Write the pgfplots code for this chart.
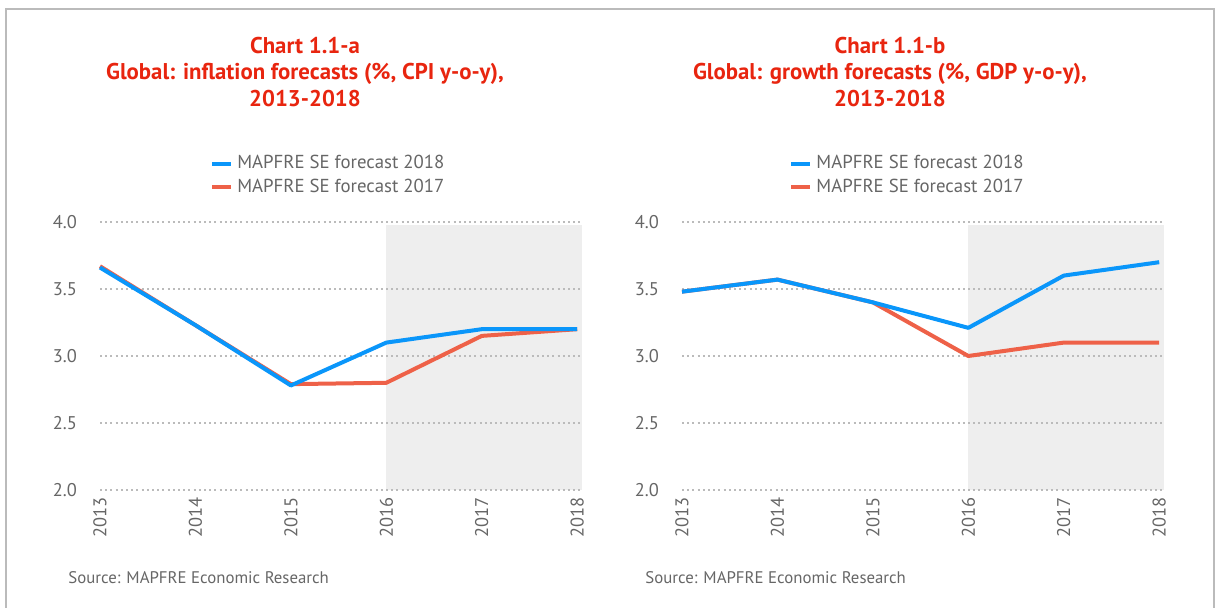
\documentclass[border=0pt]{standalone}
\usepackage{fontspec}
\setmainfont{PT Sans}
\usepackage{pgfplots}
\pgfplotsset{compat=1.18}
\definecolor{tred}{HTML}{E8250F}
\definecolor{lblue}{HTML}{0A96FA}
\definecolor{lred}{HTML}{EE6148}
\definecolor{shade}{HTML}{EEEEEE}
\definecolor{txt}{HTML}{666666}
\definecolor{frame}{HTML}{BBBBBB}
\pgfplotsset{
  mystyle/.style={
    set layers,
    scale only axis,
    width=241pt, height=134pt,
    xmin=2013, xmax=2018.05,
    ymin=2, ymax=4,
    axis line style={draw=none},
    xtick={2013,2014,2015,2016,2017,2018},
    ytick={2,2.5,3,3.5,4},
    major tick length=0pt,
    ymajorgrids,
    grid style={color=frame, line width=0.6pt, dash pattern=on 1pt off 1.6pt},
    /pgf/number format/assume math mode=true,
    ticklabel style={font=\fontsize{9.2}{10}\selectfont, text=txt},
    yticklabel style={/pgf/number format/fixed, /pgf/number format/precision=1, /pgf/number format/fixed zerofill, xshift=-8pt},
    xticklabel style={/pgf/number format/1000 sep={}, rotate=90, anchor=east},
    clip=false,
    reverse legend,
    legend style={draw=none, fill=none, font=\fontsize{9.4}{10}\selectfont, text=txt, anchor=north west, row sep=-0.4pt, inner sep=0pt},
    legend cell align=left,
    legend image code/.code={\draw[#1, line width=2pt] (0pt,0pt) -- (9.5pt,0pt);},
  },
  ser/.style={line width=2pt, line join=round, mark=none},
}
\begin{document}
\begin{tikzpicture}
\path (0,0) rectangle (610.5pt,304pt);
\draw[frame, line width=1pt] (3pt,0pt) -- (3pt,299.5pt) -- (607pt,299.5pt) -- (607pt,0pt);

\node[align=center, text=tred, font=\fontsize{11.4}{13.3}\selectfont\bfseries] at (152.5pt,268pt) {Chart 1.1-a\\Global: inflation forecasts (\%, CPI y-o-y),\\2013-2018};
\node[align=center, text=tred, font=\fontsize{11.4}{13.3}\selectfont\bfseries] at (445pt,268pt) {Chart 1.1-b\\Global: growth forecasts (\%, GDP y-o-y),\\2013-2018};

\node[anchor=base west, inner sep=0pt, text=txt, font=\fontsize{8.4}{9}\selectfont] at (34pt,12pt) {Source: MAPFRE Economic Research};
\node[anchor=base west, inner sep=0pt, text=txt, font=\fontsize{8.4}{9}\selectfont] at (322.5pt,12pt) {Source: MAPFRE Economic Research};

\begin{axis}[mystyle, at={(50pt,59pt)}, anchor=south west,
  legend style={at={(0.228,1.265)}}]
\addplot[fill=shade, draw=none, on layer=axis background, forget plot] coordinates {(2016,2) (2016,3.98) (2018.05,3.98) (2018.05,2)} -- cycle;
\addplot[ser, lred] coordinates {(2013,3.67) (2014,3.23) (2015,2.79) (2016,2.80) (2017,3.15) (2018,3.20)};
\addlegendentry{MAPFRE SE forecast 2017}
\addplot[ser, lblue] coordinates {(2013,3.66) (2014,3.23) (2015,2.78) (2016,3.10) (2017,3.20) (2018,3.20)};
\addlegendentry{MAPFRE SE forecast 2018}
\end{axis}

\begin{axis}[mystyle, at={(341pt,59pt)}, anchor=south west,
  legend style={at={(0.222,1.265)}}]
\addplot[fill=shade, draw=none, on layer=axis background, forget plot] coordinates {(2016,2) (2016,3.98) (2018.05,3.98) (2018.05,2)} -- cycle;
\addplot[ser, lred] coordinates {(2013,3.48) (2014,3.57) (2015,3.40) (2016,3.00) (2017,3.10) (2018,3.10)};
\addlegendentry{MAPFRE SE forecast 2017}
\addplot[ser, lblue] coordinates {(2013,3.48) (2014,3.57) (2015,3.40) (2016,3.21) (2017,3.60) (2018,3.70)};
\addlegendentry{MAPFRE SE forecast 2018}
\end{axis}
\end{tikzpicture}
\end{document}
